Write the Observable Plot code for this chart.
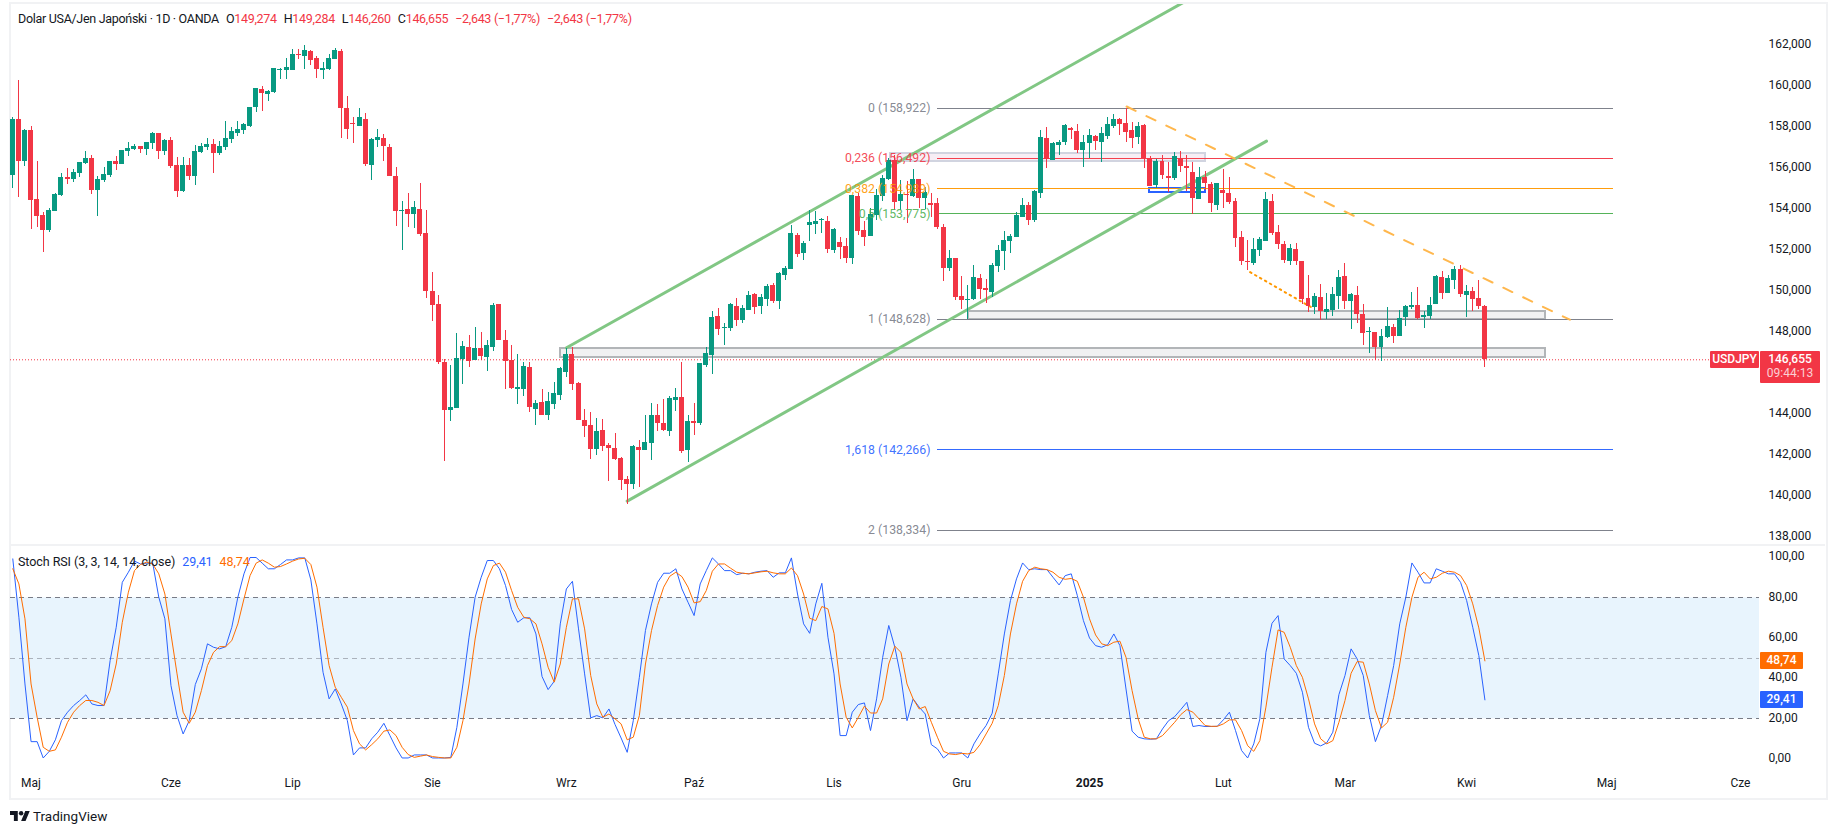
<!DOCTYPE html>
<html lang="pl">
<head>
<meta charset="utf-8">
<title>USDJPY</title>
<script src="https://cdn.jsdelivr.net/npm/d3@7"></script>
<script src="https://cdn.jsdelivr.net/npm/@observablehq/plot@0.6"></script>
<style>
html,body{margin:0;padding:0;background:#fff;width:1835px;height:833px;overflow:hidden;}
body{position:relative;font-family:Roboto,"Noto Sans",sans-serif;color:#131722;}
.abs{position:absolute;white-space:nowrap;}
.frame{position:absolute;left:9px;top:2px;width:1815px;height:794px;border:2px solid #f1f2f4;}
.sep{position:absolute;left:10px;top:544px;width:1815px;height:2px;background:#f1f2f4;}
.hdr{left:18px;top:11px;font-size:12.5px;line-height:16px;letter-spacing:-0.3px;}
.hdr b{font-weight:400;color:#f23645;}
.hdr span{margin-left:7px;}
.leg{left:18px;top:554px;font-size:12.5px;line-height:16px;letter-spacing:-0.07px;}
.leg span{margin-left:7px;}
.tag{color:#fff;font-size:12px;font-weight:500;text-align:center;line-height:17px;border-radius:1px;}
.tv{left:33px;top:807px;font-size:13.5px;line-height:18px;color:#131722;}
</style>
</head>
<body>
<div class="frame"></div>
<div id="chart"></div>
<div class="sep"></div>
<script>
// Candles, left to right: R falling, G rising
const directions =
 "GRGRRRGGGR"+"GGGRGGGRGG"+"GRGGRGRRGR"+"GGGRGGGGGG"+"GRGGGGGRGR"+"RGGGRRRGRG"+"GRRRGRGRRR"+"RRGGGRGRGG"+
 "RRRGGRGRGG"+"GGRRRRGRRR"+"RRGRGGRRGG"+"RGRGGGRGGR"+"GGRGGRGGGR"+"GGGGRGRRGR"+"RGGGGRGRGR"+"GRRRGRRGGR"+
 "RGGGGGGRGG"+"RGGGRRGGRG"+"GGRRRGRRGR"+"RGRRRGRRGR"+"RRRRGGGRRR"+"GRRRGRGGGR"+"GRRGRGGRGG"+"GRGGGRGGRG"+"RRR";
const highs = [
158.49,160.28,157.90,158.03,156.33,153.84,154.02,154.75,155.74,155.99,
155.94,156.28,156.81,156.62,155.59,156.03,156.33,156.57,156.86,157.25,
157.16,157.06,157.25,157.74,157.69,157.40,157.50,156.52,156.52,156.47,
157.11,157.20,157.45,157.40,157.30,158.28,157.98,158.28,158.18,158.98,
159.89,159.98,159.79,160.88,160.86,161.35,161.79,161.79,161.98,161.74,
161.45,161.16,161.55,161.84,161.79,159.50,158.47,158.91,158.67,157.45,
157.89,157.64,157.16,156.03,154.37,154.77,154.37,155.25,153.94,150.91,
149.79,146.65,146.38,147.94,147.54,147.84,148.23,147.98,147.59,149.40,
149.35,148.08,147.35,146.91,146.52,146.52,144.67,145.20,145.06,145.54,
146.27,147.20,147.25,145.54,144.23,144.08,143.79,143.74,142.57,143.06,
141.88,140.96,142.47,142.71,143.93,144.52,144.47,144.71,144.86,145.25,
146.52,143.93,144.52,146.47,147.25,149.01,149.15,148.42,149.40,149.64,
149.30,149.98,149.88,149.84,150.32,150.37,150.91,151.20,153.21,152.82,
152.43,153.94,153.89,153.55,153.65,153.06,152.62,152.57,154.67,154.77,
153.40,154.04,154.96,155.65,156.48,156.62,155.40,155.35,155.94,155.45,
155.06,154.77,154.52,153.26,151.99,151.60,150.72,150.28,151.25,150.81,
150.57,151.35,152.23,152.91,152.77,153.84,154.52,154.33,154.91,157.84,
157.99,157.27,157.35,158.13,157.99,158.13,157.60,157.89,157.60,157.99,
158.47,158.62,158.42,158.92,158.23,158.23,158.13,156.57,156.42,156.62,
156.28,156.77,156.81,156.62,156.28,156.03,155.84,155.30,155.25,155.94,
155.55,154.52,152.91,152.47,152.57,152.62,154.81,154.72,153.20,152.42,
152.28,152.33,151.45,150.77,149.89,150.33,149.89,150.18,151.01,151.35,
149.89,150.23,149.35,148.23,147.99,148.13,149.20,148.38,149.06,149.30,
149.94,150.18,149.01,149.69,150.77,150.96,150.77,151.20,151.25,150.28,
150.18,150.52,149.284];
const bodyTops = [
158.38,158.38,157.84,157.84,154.47,153.69,153.94,154.72,155.55,155.55,
155.79,156.28,156.47,156.47,155.45,155.69,156.33,156.33,156.86,156.96,
157.06,157.06,157.25,157.69,157.69,157.35,157.35,156.13,156.13,156.13,
156.81,157.06,157.16,157.16,157.06,157.45,157.79,157.89,158.13,158.96,
159.89,159.84,159.74,160.86,160.81,160.91,161.55,161.55,161.74,161.69,
161.35,160.86,161.35,161.74,161.69,158.91,158.18,158.47,158.38,157.40,
157.50,157.45,157.01,155.59,153.94,153.99,154.08,153.99,152.81,149.98,
149.35,146.52,144.33,146.72,147.30,147.25,147.20,147.20,147.35,149.30,
149.35,147.59,146.62,145.30,146.32,146.27,144.52,144.57,144.62,145.01,
146.23,146.91,146.91,145.49,143.69,143.45,143.15,143.20,142.47,142.32,
141.84,140.81,142.42,142.37,142.62,143.93,143.93,143.54,144.76,144.81,
144.81,143.64,143.64,146.47,146.96,148.71,148.76,148.23,149.35,149.25,
149.15,149.79,149.84,149.69,150.23,150.27,150.86,151.10,152.82,152.72,
152.33,153.35,153.40,153.50,153.40,153.01,152.38,152.18,154.67,154.62,
152.96,153.74,154.67,155.50,156.38,156.38,154.72,154.72,155.45,155.45,
154.82,154.28,154.28,153.11,151.60,151.60,149.74,149.60,150.67,150.62,
150.13,151.25,151.99,152.47,152.67,153.69,154.18,154.18,154.86,157.50,
157.45,157.21,157.26,158.08,157.94,157.79,157.25,157.60,157.55,157.69,
158.13,158.38,158.38,158.18,157.84,158.03,158.08,156.47,156.33,156.33,
155.60,156.57,156.47,156.08,155.79,155.55,155.55,155.20,155.25,154.91,
154.77,154.38,152.62,151.45,152.03,152.52,154.47,154.38,152.86,152.28,
152.08,152.03,151.45,149.64,149.74,149.69,149.11,149.84,150.67,150.72,
149.84,149.79,148.86,148.03,147.99,147.79,148.28,148.23,148.67,149.25,
149.30,149.30,148.81,149.30,150.72,150.67,150.62,151.06,151.06,149.99,
149.99,149.64,149.274];
const bodyBottoms = [
155.66,156.34,156.34,154.44,153.66,152.98,152.96,153.90,154.67,155.45,
155.45,155.76,156.23,154.93,154.93,155.40,155.64,156.20,156.20,156.81,
156.91,156.91,156.91,157.20,156.81,156.81,156.08,154.86,154.86,155.59,
155.59,156.77,157.01,156.72,156.72,157.01,157.40,157.69,157.84,158.03,
158.96,159.64,159.60,159.69,160.78,160.78,160.77,161.50,161.45,161.25,
160.81,160.78,160.81,161.30,158.91,157.89,158.13,158.03,156.18,156.13,
157.35,157.06,155.59,153.89,153.89,153.74,153.74,152.77,149.98,149.30,
146.52,144.18,144.18,144.28,146.67,146.57,146.62,146.81,146.76,147.25,
147.59,146.57,145.25,145.20,145.20,144.32,144.23,143.93,143.93,144.47,
144.91,146.03,145.45,143.69,143.40,142.27,142.27,142.42,142.32,141.79,
140.76,140.57,140.57,142.23,142.23,142.57,143.54,143.20,143.15,144.67,
142.18,142.23,143.54,143.54,146.37,146.86,148.13,148.19,148.18,148.57,
148.57,149.06,149.20,149.25,149.59,149.49,149.49,150.76,151.06,151.79,
151.84,153.21,153.26,153.45,152.04,151.99,152.13,151.60,151.60,152.92,
152.62,152.67,153.70,154.62,155.45,154.33,154.38,154.67,154.62,154.52,
154.52,154.18,153.11,151.11,151.11,149.69,149.55,149.55,149.60,150.08,
150.03,149.94,151.20,151.94,152.42,152.62,153.59,153.45,153.45,154.77,
156.43,156.38,157.11,157.25,157.84,156.86,156.86,157.20,157.30,157.25,
157.55,158.03,158.13,157.74,157.45,157.50,156.47,155.11,155.16,155.64,
155.50,155.50,156.08,155.99,154.52,154.47,155.25,154.28,154.18,154.77,
154.33,152.57,151.45,151.40,151.35,151.99,152.42,152.81,152.28,151.50,
151.45,151.45,149.60,149.25,149.20,149.01,148.96,149.06,149.74,149.50,
149.50,148.86,147.94,147.99,147.25,147.25,147.74,147.79,147.79,148.72,
149.20,148.67,148.72,148.77,149.35,149.89,149.89,150.52,149.84,149.79,
149.60,149.25,146.655];
const lows = [
155.03,154.59,156.10,153.03,153.12,151.90,152.88,153.90,154.62,155.22,
155.32,155.55,156.18,154.73,153.66,155.30,155.56,155.89,156.20,156.57,
156.86,156.72,156.62,156.91,156.42,156.62,155.99,154.59,154.81,155.40,
155.16,156.72,156.86,155.74,156.62,156.86,157.20,157.54,157.64,157.98,
158.72,158.77,159.25,159.64,160.33,160.33,160.77,161.30,160.81,161.01,
160.38,160.33,160.77,161.30,157.45,157.40,157.20,158.03,156.08,155.40,
157.01,156.33,155.59,153.16,151.98,153.11,153.06,152.67,149.64,148.52,
146.42,141.69,143.66,144.28,145.45,146.27,146.62,146.62,146.08,147.06,
147.59,145.20,145.20,144.47,144.86,144.08,143.45,143.93,143.69,144.23,
144.67,145.79,145.15,143.69,142.86,141.79,141.98,142.18,140.71,141.74,
140.27,139.59,140.32,140.42,142.23,141.74,143.15,143.15,142.91,144.13,
142.08,141.64,142.96,143.45,146.27,145.93,147.84,147.35,148.03,148.28,
148.42,149.06,148.86,148.86,149.25,149.40,149.10,150.52,151.06,151.66,
151.50,152.43,152.77,152.82,151.84,151.84,151.55,151.35,151.31,152.72,
152.18,152.67,153.45,154.38,155.40,153.94,153.94,153.31,154.57,154.04,
153.99,153.60,153.01,150.48,150.96,149.55,149.11,148.62,149.55,149.60,
149.40,149.69,150.91,151.01,151.84,152.62,153.59,153.20,153.35,154.52,
155.99,156.38,156.62,157.11,157.40,156.72,156.03,156.47,156.86,156.28,
157.40,157.94,157.60,157.25,156.96,157.16,155.99,155.11,154.99,155.45,
154.81,155.40,155.79,154.86,153.74,154.47,154.91,153.84,153.94,154.03,
154.23,152.13,151.25,151.01,151.25,151.69,152.42,152.72,152.03,151.35,
151.25,151.25,149.35,148.96,148.86,148.57,148.62,148.77,149.11,149.11,
148.13,148.42,147.35,146.96,146.62,146.57,147.69,147.45,147.79,148.28,
149.11,148.62,148.18,148.62,149.35,149.60,149.89,150.08,149.69,148.72,
149.01,149.11,146.26];

// Stoch RSI
const stochK = [
99.3,70.4,37.3,8.7,8.7,0.6,3.9,9.6,19.1,23.3,26.6,29.1,31.9,27.4,26.6,26.6,48.9,65.4,87.7,92.7,
98.2,96.8,97.2,97.2,80.3,69.6,36.5,21.6,12.5,19.1,37.0,44.8,57.2,55.5,54.7,55.8,65.4,80.3,91.9,100,
100,97.2,94.4,94.4,96.5,98.8,98.8,99.8,99.8,88.9,67.1,43.1,29.9,34.8,27.4,19.1,2.1,5.6,5.6,10.1,
13.4,17.8,11.7,5.6,0.6,0.6,2.1,2.1,2.1,0.6,0.6,0.6,0.9,15.8,37.3,60.5,80.3,90.2,98.5,98.5,
94.4,86.1,74.2,67.9,70.1,70.1,62.1,41.0,34.5,38.6,67.1,84.4,88.2,64.6,42.3,20.5,21.6,20.5,24.9,17.2,
10.5,3.4,19.1,40.6,63.8,77.0,87.7,92.2,92.2,94.4,84.4,77.8,71.2,86.9,93.5,99.8,96.8,93.5,93.5,91.5,
92.2,91.9,92.7,93.2,93.5,90.2,92.4,92.4,99.8,81.9,67.1,62.4,77.0,87.2,60.5,42.3,11.7,11.7,23.3,27.1,
27.9,14.2,29.9,50.5,66.3,55.5,40.6,19.1,29.9,25.8,22.4,7.2,5.1,0.6,3.1,3.1,3.1,0.6,7.6,12.5,
16.7,22.8,42.3,62.1,78.6,89.4,97.3,94.0,94.4,94.0,94.0,90.2,86.4,91.0,91.9,81.1,68.7,60.1,56.3,55.5,
56.8,62.1,56.3,34.8,13.9,10.9,10.1,9.9,10.1,15.0,19.1,21.1,24.6,28.2,16.2,16.7,16.2,16.2,16.3,19.5,
23.3,14.2,4.3,0.6,7.6,20.0,53.0,67.4,71.2,49.7,46.4,42.6,33.2,15.8,7.9,6.6,8.1,13.4,32.0,41.5,
54.7,49.7,41.5,21.6,8.7,16.7,31.5,46.4,67.1,80.3,97.3,92.7,87.4,87.4,94.4,93.2,91.9,91.9,87.7,78.6,
65.4,51.4,29.41];
const stochD = [
94.4,86.9,69.6,37.3,20.8,5.9,3.9,4.6,10.9,18.3,23.3,26.6,29.1,29.1,28.2,26.6,34.0,47.2,67.9,82.8,
93.5,96.5,97.7,96.8,91.9,81.9,62.1,42.3,23.3,17.8,23.3,34.0,46.4,53.0,55.8,55.8,58.8,67.1,79.5,91.0,
97.2,98.8,97.2,95.2,95.5,96.8,98.2,99.3,99.6,96.5,85.3,65.4,46.4,35.7,30.7,25.8,14.2,7.6,4.6,7.2,
10.1,13.9,14.5,11.7,5.9,2.3,0.9,1.5,2.1,1.3,0.9,0.6,0.6,5.9,19.1,37.3,59.6,77.0,89.4,96.0,
97.2,92.7,83.6,75.3,70.4,69.6,67.1,57.2,45.6,38.2,47.2,65.4,79.5,79.5,64.6,41.5,27.4,20.8,22.4,20.0,
17.5,9.6,10.9,21.6,47.2,63.8,76.2,85.3,90.7,92.7,90.5,85.3,77.5,78.1,83.6,93.2,96.8,96.8,94.7,92.7,
92.2,91.9,92.4,92.9,93.2,92.4,91.9,91.9,94.8,91.0,81.9,69.9,68.7,75.7,74.5,62.4,37.3,20.8,15.5,20.8,
26.3,22.9,22.9,29.9,47.2,56.0,53.0,37.3,29.9,24.9,26.1,18.3,10.9,3.9,2.6,2.3,2.9,2.6,3.4,7.2,
12.5,17.8,26.6,41.5,62.1,77.0,88.2,93.5,95.2,94.4,94.0,92.7,90.2,89.2,89.6,88.2,80.3,69.6,61.6,57.2,
56.3,58.0,58.5,50.5,34.0,20.0,10.9,10.1,10.1,11.7,15.0,18.3,22.1,24.6,23.3,20.0,16.7,16.3,16.3,17.5,
19.5,19.5,14.2,6.7,3.9,9.2,25.8,45.6,64.1,62.9,55.5,46.4,40.6,29.9,17.5,10.1,7.6,9.2,18.3,29.1,
42.6,48.4,48.1,37.3,24.1,15.5,18.3,30.7,47.2,65.4,80.3,90.2,92.7,89.4,90.2,92.2,93.2,92.7,91.0,86.1,
77.0,65.1,48.74];

const lastPrice = 146.655;
const priceTicks = [138,140,142,144,146,148,150,152,154,156,158,160,162];
const stochTicks = [0,20,40,60,80,100];
const stochLevels = [80,50,20];

const monthPositions = [4,27,47,70,92,113,136,157,178,200,220,240,263,285];
const monthNames = ["Maj","Cze","Lip","Sie","Wrz","Paź","Lis","Gru","2025","Lut","Mar","Kwi","Maj","Cze"];

// Fibonacci retracement
const fibLevels = [158.922,156.492,154.989,153.775,148.628,142.266,138.334];
const fibNames = ["0","0,236","0,382","0,5","1","1,618","2"];
const fibColors = ["#787b86","#f23645","#ff9800","#4caf50","#787b86","#2962ff","#787b86"];
const fibFrom = 153, fibTo = 264.1;

// Drawn rectangles
const boxFrom = [91.04,158.1,145.3,187.9];
const boxTo = [253,253,197.07,197.07];
const boxTop = [147.21,149.03,156.70,154.99];
const boxBottom = [146.77,148.64,156.31,154.80];
const boxStroke = ["#b2b5b8","#b2b5b8","#d1d4e0","#2962ff"];
const boxFill = ["#f1f1f2","#f1f1f2","#f7eef5","#ffffff"];

// Drawn trend lines: [index, price]
const channelUpper = [[92.02,147.24],[197,164.68]];
const channelLower = [[102.0,139.76],[207.1,157.32]];
const trendDashed = [[184.1,159.01],[256.96,148.61]];
const trendDotted = [[204.4,150.93],[214.8,149.16]];

const GREEN = "#089981", RED = "#f23645";
const FONT = 'Roboto,"Noto Sans",sans-serif';
const dec = (d, n) => d.toFixed(n).replace(".", ",");

const candles = highs.map((h, i) => ({
  n: i + 1, high: h, low: lows[i], top: bodyTops[i], bottom: bodyBottoms[i],
  color: directions[i] === "G" ? GREEN : RED
}));
const fibs = fibLevels.map((p, i) => ({p, color: fibColors[i], label: `${fibNames[i]} (${dec(p, 3)})`}));
const boxes = boxFrom.map((a, i) => ({a, b: boxTo[i], t: boxTop[i], l: boxBottom[i], s: boxStroke[i], f: boxFill[i]}));
const xDomain = [0.622, 288.14];

const pricePlot = Plot.plot({
  width: 1835, height: 545, marginLeft: 10, marginRight: 76, marginTop: 4, marginBottom: 0,
  x: {domain: xDomain, axis: null},
  y: {domain: [137.596, 163.987]},
  style: {fontFamily: FONT, fontSize: "12px", color: "#131722", background: "transparent"},
  marks: [
    Plot.axisY({anchor: "right", ticks: priceTicks, tickFormat: d => dec(d, 3), tickSize: 0, tickPadding: 9, label: null, fill: "#131722", fontSize: 12, dy: -1}),
    Plot.rect(boxes, {x1: "a", x2: "b", y1: "l", y2: "t", fill: "f", stroke: "s", strokeWidth: 2, shapeRendering: "crispEdges"}),
    Plot.ruleY(fibs, {y: "p", x1: () => fibFrom, x2: () => fibTo, stroke: "color", strokeWidth: 1, strokeOpacity: 0.95, shapeRendering: "crispEdges"}),
    Plot.ruleY([lastPrice], {x1: () => xDomain[0], x2: () => 280, stroke: RED, strokeWidth: 1, strokeDasharray: "1 2"}),
    Plot.line(channelUpper, {x: "0", y: "1", stroke: "#81c784", strokeWidth: 3, clip: true}),
    Plot.line(channelLower, {x: "0", y: "1", stroke: "#81c784", strokeWidth: 3, clip: true}),
    Plot.line(trendDashed, {x: "0", y: "1", stroke: "#ffb74d", strokeWidth: 2, strokeDasharray: "10 12"}),
    Plot.line(trendDotted, {x: "0", y: "1", stroke: "#ff9800", strokeWidth: 2, strokeDasharray: "1.5 4.2"}),
    Plot.ruleX(candles, {x: "n", y1: "low", y2: "high", stroke: "color", strokeWidth: 1, shapeRendering: "crispEdges"}),
    Plot.rect(candles, {x1: d => d.n - 0.41, x2: d => d.n + 0.41, y1: "bottom", y2: "top", fill: "color", shapeRendering: "crispEdges"}),
    Plot.text(fibs, {x: () => fibFrom, y: "p", text: "label", fill: "color", textAnchor: "end", dx: -7, fontSize: 12.3, fillOpacity: 0.9})
  ]
});

const stochPlot = Plot.plot({
  width: 1835, height: 253, marginLeft: 10, marginRight: 76, marginTop: 0, marginBottom: 26,
  x: {domain: xDomain},
  y: {domain: [-6.6, 105.95]},
  style: {fontFamily: FONT, fontSize: "12px", color: "#131722", background: "transparent"},
  marks: [
    Plot.rect([0], {x1: () => xDomain[0], x2: () => xDomain[1], y1: () => stochLevels[2], y2: () => stochLevels[0], fill: "#e8f4fd"}),
    Plot.ruleY(stochLevels, {stroke: "#787b86", strokeWidth: 1, strokeDasharray: "5 4", strokeOpacity: d => d === 50 ? 0.55 : 1, shapeRendering: "crispEdges"}),
    Plot.line(stochK, {x: (d, i) => i + 1, y: d => d, stroke: "#2962ff", strokeWidth: 1, curve: "linear"}),
    Plot.line(stochD, {x: (d, i) => i + 1, y: d => d, stroke: "#ff6d00", strokeWidth: 1, curve: "linear"}),
    Plot.axisY({anchor: "right", ticks: stochTicks, tickFormat: d => dec(d, 2), tickSize: 0, tickPadding: 9, label: null, fill: "#131722", fontSize: 12, dy: -1, textAnchor: "start"}),
    Plot.axisX({ticks: monthPositions.filter(d => d !== 178), tickFormat: d => monthNames[monthPositions.indexOf(d)], tickSize: 0, tickPadding: 6, label: null, fill: "#131722", fontSize: 12}),
    Plot.axisX({ticks: [178], tickFormat: d => monthNames[monthPositions.indexOf(d)], tickSize: 0, tickPadding: 6, label: null, fill: "#131722", fontSize: 12, fontWeight: "bold"})
  ]
});

const chart = document.getElementById("chart");
pricePlot.style.cssText += ";position:absolute;left:0;top:0;";
stochPlot.style.cssText += ";position:absolute;left:0;top:545px;";
chart.append(pricePlot, stochPlot);

function addDiv(cls, css, html) {
  const d = document.createElement("div");
  d.className = "abs " + cls;
  d.style.cssText = css;
  d.innerHTML = html;
  document.body.append(d);
  return d;
}
// Header
addDiv("hdr", "", 'Dolar USA/Jen Japoński · 1D · OANDA<span>O<b>149,274</b></span><span>H<b>149,284</b></span><span>L<b>146,260</b></span><span>C<b>146,655</b></span><span><b>−2,643 (−1,77%)</b></span><span><b>−2,643 (−1,77%)</b></span>');
// Stoch RSI legend
addDiv("leg", "", `Stoch RSI (3, 3, 14, 14, close)<span style="color:#2962ff">${dec(stochK[stochK.length-1],2)}</span><span style="color:#ff6d00">${dec(stochD[stochD.length-1],2)}</span>`);
// Price tags
const py = pricePlot.scale("y").apply(lastPrice);
addDiv("tag", `left:1710px;top:${py-8.3}px;width:49px;height:17px;background:${RED};`, "USDJPY");
addDiv("tag", `left:1760px;top:${py-8.3}px;width:60px;height:31px;background:${RED};line-height:14px;padding-top:1px;`, `146,655<br><span style="font-weight:400;color:#fbd0d4">09:44:13</span>`);
// Indicator tags
const sy = v => 545 + stochPlot.scale("y").apply(v);
addDiv("tag", `left:1760px;top:${sy(stochD[stochD.length-1])-8.5}px;width:43px;height:17px;background:#ff6d00;`, dec(stochD[stochD.length-1],2));
addDiv("tag", `left:1760px;top:${sy(stochK[stochK.length-1])-8.5}px;width:43px;height:17px;background:#2962ff;`, dec(stochK[stochK.length-1],2));
// TradingView mark
addDiv("", "left:10px;top:811px;width:20px;height:10px;", '<svg width="20" height="10" viewBox="0 4 36 18" style="display:block"><path fill="#131722" d="M14 22H7V11H0V4h14v18zM28 22h-8l7.5-18h8L28 22z"/><circle fill="#131722" cx="20" cy="8" r="4"/></svg>');
addDiv("tv", "", "TradingView");
</script>
</body>
</html>
